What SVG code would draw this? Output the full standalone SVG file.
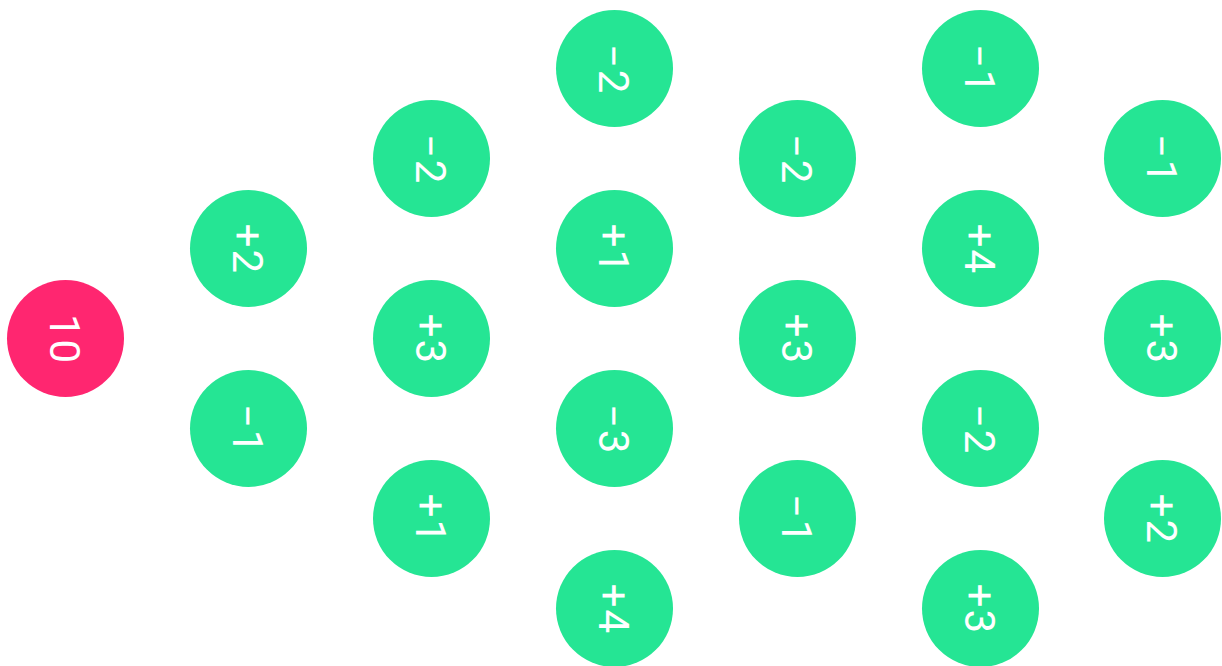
<svg xmlns="http://www.w3.org/2000/svg" width="1222" height="666" viewBox="0 0 1222 666">
<style>
.n{fill:#25E594}
.s{fill:#FF2670}
.t{fill:#fff;font-family:Roboto,"Liberation Sans",sans-serif;font-weight:400;font-size:42px;letter-spacing:2px;text-anchor:middle}
</style>
<rect width="1222" height="666" fill="#fff"/>
<g id="connectors"></g>
<g id="n0"><circle class="s" cx="65.5" cy="338.5" r="58.5"/><text class="t" x="66.5" y="354.5" transform="rotate(90 65.5 338.5)">10</text></g>
<g id="n1"><circle class="n" cx="248.5" cy="248.5" r="58.5"/><text class="t" x="249.5" y="264.5" transform="rotate(90 248.5 248.5)">+2</text></g>
<g id="n2"><circle class="n" cx="248.5" cy="428.5" r="58.5"/><text class="t" x="249.5" y="444.5" transform="rotate(90 248.5 428.5)">−1</text></g>
<g id="n3"><circle class="n" cx="431.5" cy="158.5" r="58.5"/><text class="t" x="432.5" y="174.5" transform="rotate(90 431.5 158.5)">−2</text></g>
<g id="n4"><circle class="n" cx="431.5" cy="338.5" r="58.5"/><text class="t" x="432.5" y="354.5" transform="rotate(90 431.5 338.5)">+3</text></g>
<g id="n5"><circle class="n" cx="431.5" cy="518.5" r="58.5"/><text class="t" x="432.5" y="534.5" transform="rotate(90 431.5 518.5)">+1</text></g>
<g id="n6"><circle class="n" cx="614.5" cy="68.5" r="58.5"/><text class="t" x="615.5" y="84.5" transform="rotate(90 614.5 68.5)">−2</text></g>
<g id="n7"><circle class="n" cx="614.5" cy="248.5" r="58.5"/><text class="t" x="615.5" y="264.5" transform="rotate(90 614.5 248.5)">+1</text></g>
<g id="n8"><circle class="n" cx="614.5" cy="428.5" r="58.5"/><text class="t" x="615.5" y="444.5" transform="rotate(90 614.5 428.5)">−3</text></g>
<g id="n9"><circle class="n" cx="614.5" cy="608.5" r="58.5"/><text class="t" x="615.5" y="624.5" transform="rotate(90 614.5 608.5)">+4</text></g>
<g id="n10"><circle class="n" cx="797.5" cy="158.5" r="58.5"/><text class="t" x="798.5" y="174.5" transform="rotate(90 797.5 158.5)">−2</text></g>
<g id="n11"><circle class="n" cx="797.5" cy="338.5" r="58.5"/><text class="t" x="798.5" y="354.5" transform="rotate(90 797.5 338.5)">+3</text></g>
<g id="n12"><circle class="n" cx="797.5" cy="518.5" r="58.5"/><text class="t" x="798.5" y="534.5" transform="rotate(90 797.5 518.5)">−1</text></g>
<g id="n13"><circle class="n" cx="980.5" cy="68.5" r="58.5"/><text class="t" x="981.5" y="84.5" transform="rotate(90 980.5 68.5)">−1</text></g>
<g id="n14"><circle class="n" cx="980.5" cy="248.5" r="58.5"/><text class="t" x="981.5" y="264.5" transform="rotate(90 980.5 248.5)">+4</text></g>
<g id="n15"><circle class="n" cx="980.5" cy="428.5" r="58.5"/><text class="t" x="981.5" y="444.5" transform="rotate(90 980.5 428.5)">−2</text></g>
<g id="n16"><circle class="n" cx="980.5" cy="608.5" r="58.5"/><text class="t" x="981.5" y="624.5" transform="rotate(90 980.5 608.5)">+3</text></g>
<g id="n17"><circle class="n" cx="1162.5" cy="158.5" r="58.5"/><text class="t" x="1163.5" y="174.5" transform="rotate(90 1162.5 158.5)">−1</text></g>
<g id="n18"><circle class="n" cx="1162.5" cy="338.5" r="58.5"/><text class="t" x="1163.5" y="354.5" transform="rotate(90 1162.5 338.5)">+3</text></g>
<g id="n19"><circle class="n" cx="1162.5" cy="518.5" r="58.5"/><text class="t" x="1163.5" y="534.5" transform="rotate(90 1162.5 518.5)">+2</text></g>
</svg>
